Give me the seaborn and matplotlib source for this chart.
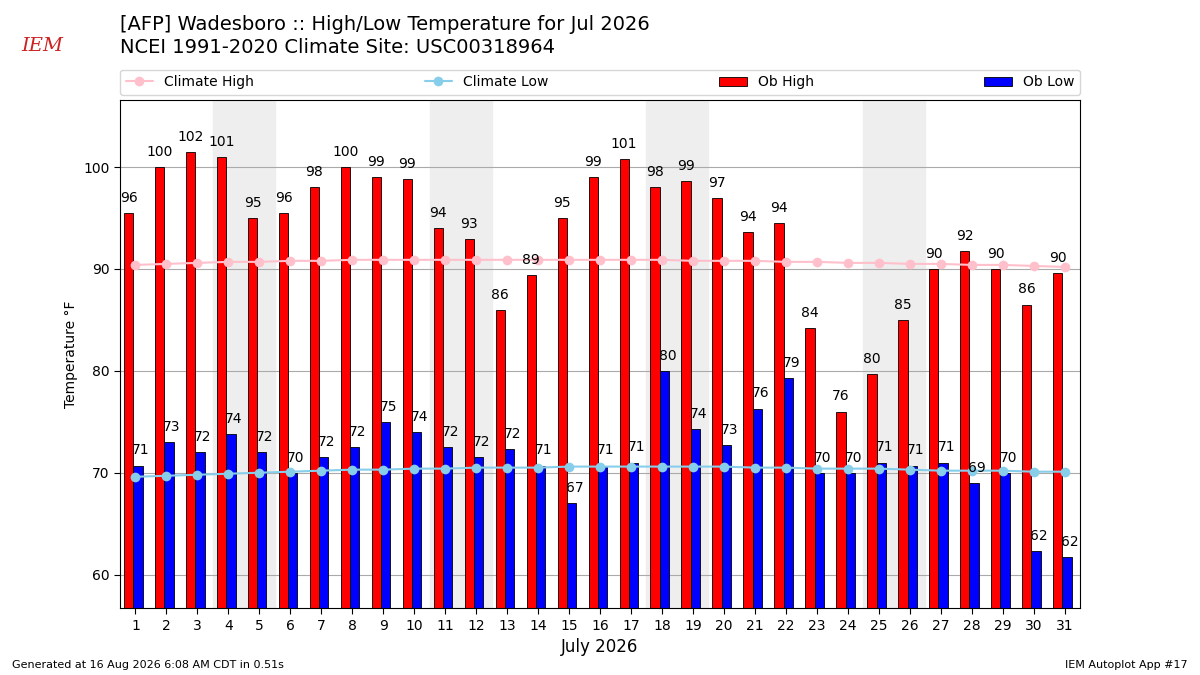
import matplotlib
matplotlib.use("Agg")
import matplotlib.pyplot as plt
import numpy as np
import seaborn as sns

sns.set_style("white")
plt.rcParams["font.family"] = ["DejaVu Sans"]
plt.rcParams["text.color"] = "black"
plt.rcParams["axes.labelcolor"] = "black"
plt.rcParams["xtick.color"] = "black"
plt.rcParams["ytick.color"] = "black"

days = list(range(1, 32))
ob_high = [95.5, 100, 101.5, 101, 95, 95.5, 98, 100, 99, 98.8, 94, 92.9, 86, 89.4, 95, 99,
           100.8, 98, 98.6, 97, 93.6, 94.5, 84.2, 76, 79.7, 85, 90, 91.8, 90, 86.5, 89.6]
ob_low = [70.7, 73, 72, 73.8, 72, 70, 71.5, 72.5, 75, 74, 72.5, 71.5, 72.3, 70.7, 67, 70.7,
          71, 80, 74.3, 72.7, 76.3, 79.3, 70, 70, 71, 70.7, 71, 69, 70, 62.3, 61.7]
clim_high = [90.4, 90.5, 90.6, 90.7, 90.7, 90.8, 90.8, 90.9, 90.9, 90.9, 90.9, 90.9, 90.9, 90.9,
             90.9, 90.9, 90.9, 90.9, 90.8, 90.8, 90.8, 90.7, 90.7, 90.6, 90.6, 90.5, 90.5,
             90.4, 90.4, 90.3, 90.2]
clim_low = [69.6, 69.7, 69.8, 69.9, 70.0, 70.1, 70.2, 70.3, 70.3, 70.4, 70.4, 70.5, 70.5, 70.5,
            70.6, 70.6, 70.6, 70.6, 70.6, 70.6, 70.5, 70.5, 70.4, 70.4, 70.4, 70.3, 70.2,
            70.2, 70.2, 70.1, 70.1]
weekends = [4, 11, 18, 25]

fig = plt.figure(figsize=(12, 6.75), dpi=100)
ax = fig.add_axes([0.1, 0.099, 0.8, 0.753])

for d in weekends:
    ax.axvspan(d - 0.5, d + 1.5, color="#eeeeee", zorder=0)

x = np.array(days)
ax.bar(x - 0.22, ob_high, width=0.3, color="red", edgecolor="black", linewidth=0.6,
       label="Ob High", zorder=2)
ax.bar(x + 0.08, ob_low, width=0.3, color="blue", edgecolor="black", linewidth=0.6,
       label="Ob Low", zorder=2)
sns.lineplot(x=days, y=clim_high, ax=ax, color="pink", marker="o", markersize=7,
             markeredgewidth=0, linewidth=1.5, label="Climate High", zorder=3)
sns.lineplot(x=days, y=clim_low, ax=ax, color="skyblue", marker="o", markersize=7,
             markeredgewidth=0, linewidth=1.5, label="Climate Low", zorder=3)

for xi, h, l in zip(x, ob_high, ob_low):
    ax.text(xi - 0.22, h + 0.8, f"{h:.0f}", ha="center", va="bottom", fontsize=10, zorder=4)
    ax.text(xi + 0.18, l + 0.8, f"{l:.0f}", ha="center", va="bottom", fontsize=10, zorder=4)

ax.set_xlim(0.5, 31.5)
ax.set_ylim(56.7, 106.6)
ax.set_xticks(days)
ax.set_yticks([60, 70, 80, 90, 100])
ax.tick_params(labelsize=10, length=4, left=True, bottom=True)
ax.yaxis.grid(True, color="#aaaaaa", linewidth=0.8)
ax.set_axisbelow(True)
for s in ax.spines.values():
    s.set_color("black")
ax.set_xlabel("July 2026", fontsize=12)
ax.set_ylabel("Temperature °F", fontsize=10)

handles, labels = ax.get_legend_handles_labels()
order = [labels.index(n) for n in ["Climate High", "Climate Low", "Ob High", "Ob Low"]]
ax.legend([handles[i] for i in order], [labels[i] for i in order], ncol=4, mode="expand",
          loc="lower left", bbox_to_anchor=(0, 1.01, 1, 0.05), borderaxespad=0,
          fontsize=10, frameon=True)

fig.text(0.1, 0.95, "[AFP] Wadesboro :: High/Low Temperature for Jul 2026", fontsize=14, va="bottom")
fig.text(0.1, 0.915, "NCEI 1991-2020 Climate Site: USC00318964", fontsize=14, va="bottom")
fig.text(0.018, 0.925, "IEM", fontsize=14, color="#cc2222", style="italic", family="DejaVu Serif")
fig.text(0.01, 0.01, "Generated at 16 Aug 2026 6:08 AM CDT in 0.51s", fontsize=8)
fig.text(0.99, 0.01, "IEM Autoplot App #17", fontsize=8, ha="right")

fig.savefig("out.png", dpi=100)
